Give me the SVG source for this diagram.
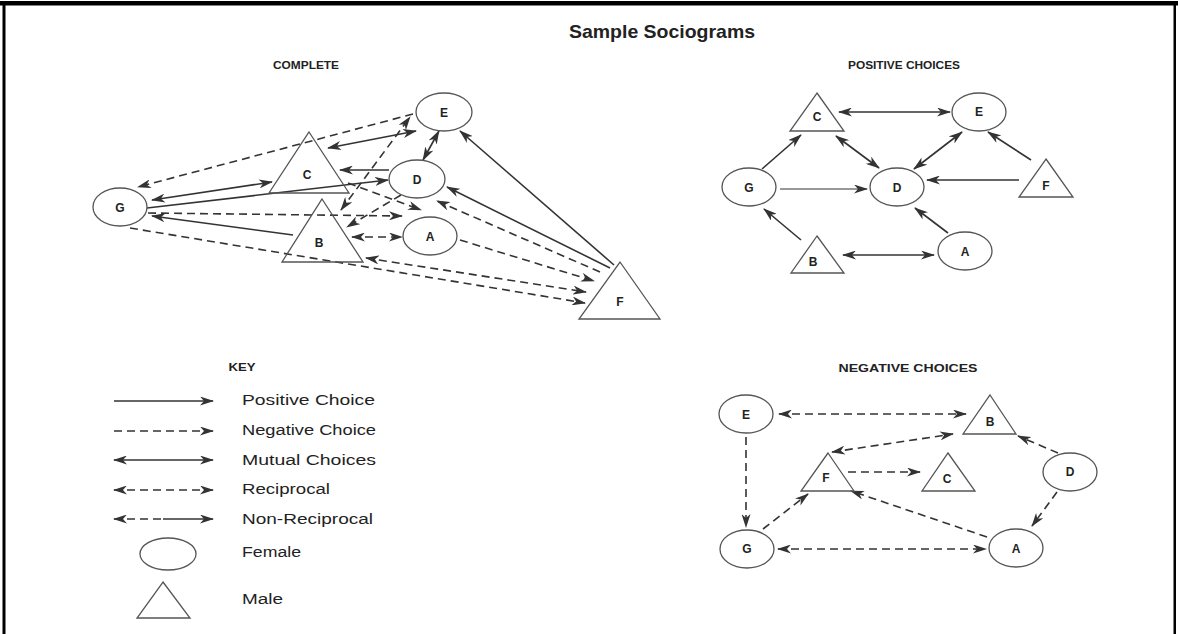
<svg xmlns="http://www.w3.org/2000/svg" width="1178" height="634" viewBox="0 0 1178 634">
<style>
.bg{fill:#fff}
.frame{fill:#000}
.nd{fill:none;stroke:#555;stroke-width:1.3}
.lbl{font-family:"Liberation Sans",Arial,sans-serif;font-weight:bold;font-size:12px;fill:#222;text-anchor:middle;dominant-baseline:central}
.hd{font-family:"Liberation Sans",Arial,sans-serif;font-weight:bold;font-size:11px;fill:#222;text-anchor:middle}
.ttl{font-family:"Liberation Sans",Arial,sans-serif;font-weight:bold;font-size:19px;fill:#222;text-anchor:middle}
.key{font-family:"Liberation Sans",Arial,sans-serif;font-size:14px;fill:#222}
.s{fill:none;stroke:#333;stroke-width:1.6}
.d{fill:none;stroke:#333;stroke-width:1.6;stroke-dasharray:8,5}
.t{fill:none;stroke:#333;stroke-width:1}
.e{marker-end:url(#ah)}
.b{marker-start:url(#ah);marker-end:url(#ah)}
</style>
<defs>
<marker id="ah" viewBox="0 0 14 9" refX="13" refY="4.5" markerWidth="14" markerHeight="9" markerUnits="userSpaceOnUse" orient="auto-start-reverse">
<path d="M0,0 L14,4.5 L0,9 L4,4.5 Z" fill="#333"/>
</marker>
</defs>
<rect class="bg" x="0" y="0" width="1178" height="634"/>
<rect class="frame" x="0" y="1" width="1178" height="4.5"/>
<rect class="frame" x="2.5" y="1" width="3" height="633"/>
<rect class="frame" x="1173.5" y="1" width="2.5" height="633"/>

<text class="ttl" x="662" y="38" textLength="186" lengthAdjust="spacingAndGlyphs">Sample Sociograms</text>
<text class="hd" x="306" y="69" textLength="66" lengthAdjust="spacingAndGlyphs">COMPLETE</text>
<text class="hd" x="904" y="69" textLength="112" lengthAdjust="spacingAndGlyphs">POSITIVE CHOICES</text>
<text class="hd" x="242" y="371" textLength="27" lengthAdjust="spacingAndGlyphs">KEY</text>
<text class="hd" x="908" y="372" textLength="139" lengthAdjust="spacingAndGlyphs">NEGATIVE CHOICES</text>

<!-- COMPLETE connectors -->
<g id="complete-connectors">
<path class="d e" d="M413,114 L138,187"/>
<path class="s b" d="M328,148 L416,131"/>
<path class="s b" d="M423,160 L439,131"/>
<path class="s e" d="M614,265 L460,131"/>
<path class="s e" d="M610,268 L447,187"/>
<path class="s e" d="M389,170 L340,170"/>
<path class="s b" d="M152,200 L272,182"/>
<path class="s e" d="M147,208 L388,180"/>
<path class="s e" d="M293,235 L152,216"/>
<path class="d e" d="M130,228 L585,303"/>
<path class="d b" d="M366,258 L586,292"/>
<path class="d e" d="M460,240 L594,281"/>
<path class="d e" d="M348,183 L421,210"/>
<path class="d e" d="M600,272 L437,201"/>
<path class="d e" d="M148,213 L402,216"/>
<path class="d b" d="M352,237 L402,237"/>
<path class="d e" d="M401,195 L347,227"/>
<path class="d b" d="M341,210 L410,117"/>
</g>
<g id="complete-G"><ellipse class="nd" cx="120" cy="207" rx="27" ry="19"/><text class="lbl" x="120" y="208">G</text></g>
<g id="complete-C"><path class="nd" d="M309,132 L349,193 L269,193 Z"/><text class="lbl" x="307" y="175">C</text></g>
<g id="complete-B"><path class="nd" d="M322,199 L363,262 L282,262 Z"/><text class="lbl" x="319" y="243">B</text></g>
<g id="complete-E"><ellipse class="nd" cx="444" cy="112" rx="28" ry="19"/><text class="lbl" x="444" y="113">E</text></g>
<g id="complete-D"><ellipse class="nd" cx="417" cy="179" rx="28" ry="19"/><text class="lbl" x="417" y="180">D</text></g>
<g id="complete-A"><ellipse class="nd" cx="430" cy="236" rx="27" ry="19"/><text class="lbl" x="430" y="237">A</text></g>
<g id="complete-F"><path class="nd" d="M620,262 L660,319 L579,319 Z"/><text class="lbl" x="620" y="302">F</text></g>

<!-- POSITIVE connectors -->
<g id="positive-connectors">
<path class="s b" d="M839,112 L950,112"/>
<path class="s b" d="M836,136 L879,168"/>
<path class="s b" d="M962,132 L914,169"/>
<path class="s e" d="M1031,160 L988,132"/>
<path class="s e" d="M1019,180 L927,180"/>
<path class="s e" d="M762,169 L801,135"/>
<path class="t e" d="M780,189 L867,189"/>
<path class="s e" d="M801,240 L764,209"/>
<path class="s b" d="M843,255 L934,255"/>
<path class="s e" d="M948,233 L915,208"/>
</g>
<g id="positive-C"><path class="nd" d="M817,93 L844,131 L790,131 Z"/><text class="lbl" x="817" y="117">C</text></g>
<g id="positive-E"><ellipse class="nd" cx="979" cy="112" rx="27" ry="19"/><text class="lbl" x="979" y="112">E</text></g>
<g id="positive-G"><ellipse class="nd" cx="749" cy="187" rx="27" ry="19"/><text class="lbl" x="749" y="188">G</text></g>
<g id="positive-D"><ellipse class="nd" cx="897" cy="187" rx="27" ry="19"/><text class="lbl" x="897" y="188">D</text></g>
<g id="positive-F"><path class="nd" d="M1046,159 L1073,197 L1019,197 Z"/><text class="lbl" x="1046" y="186">F</text></g>
<g id="positive-B"><path class="nd" d="M817,236 L844,273 L791,273 Z"/><text class="lbl" x="813" y="262">B</text></g>
<g id="positive-A"><ellipse class="nd" cx="965" cy="251" rx="27" ry="19"/><text class="lbl" x="965" y="252">A</text></g>

<!-- NEGATIVE connectors -->
<g id="negative-connectors">
<path class="d b" d="M779,414 L966,414"/>
<path class="d e" d="M746,437 L746,527"/>
<path class="d b" d="M832,452 L953,434"/>
<path class="d e" d="M1058,453 L1018,436"/>
<path class="d e" d="M848,472 L920,472"/>
<path class="d e" d="M1057,492 L1032,526"/>
<path class="d e" d="M987,537 L851,491"/>
<path class="d e" d="M763,529 L808,494"/>
<path class="d b" d="M778,549 L986,549"/>
</g>
<g id="negative-E"><ellipse class="nd" cx="746" cy="414" rx="27" ry="19"/><text class="lbl" x="746" y="415">E</text></g>
<g id="negative-B"><path class="nd" d="M990,395 L1016,434 L963,434 Z"/><text class="lbl" x="990" y="422">B</text></g>
<g id="negative-F"><path class="nd" d="M828,453 L854,491 L801,491 Z"/><text class="lbl" x="826" y="478">F</text></g>
<g id="negative-C"><path class="nd" d="M948,453 L975,491 L922,491 Z"/><text class="lbl" x="947" y="479">C</text></g>
<g id="negative-D"><ellipse class="nd" cx="1070" cy="472" rx="27" ry="19"/><text class="lbl" x="1070" y="472">D</text></g>
<g id="negative-G"><ellipse class="nd" cx="747" cy="549" rx="27" ry="19"/><text class="lbl" x="747" y="549">G</text></g>
<g id="negative-A"><ellipse class="nd" cx="1016" cy="548" rx="27" ry="19"/><text class="lbl" x="1016" y="549">A</text></g>

<!-- KEY -->
<g id="key-connectors">
<path class="s e" d="M114,401 L213,401"/>
<path class="d e" d="M114,431 L213,431"/>
<path class="s b" d="M114,460 L213,460"/>
<path class="d b" d="M114,490 L213,490"/>
<path class="d" d="M114,519 L163,519" style="marker-start:url(#ah)"/>
<path class="s e" d="M163,519 L213,519"/>
</g>
<g id="key-labels">
<text class="key" x="242" y="405" textLength="133" lengthAdjust="spacingAndGlyphs">Positive  Choice</text>
<text class="key" x="242" y="435" textLength="134" lengthAdjust="spacingAndGlyphs">Negative Choice</text>
<text class="key" x="242" y="465" textLength="134" lengthAdjust="spacingAndGlyphs">Mutual  Choices</text>
<text class="key" x="242" y="494" textLength="88" lengthAdjust="spacingAndGlyphs">Reciprocal</text>
<text class="key" x="242" y="524" textLength="131" lengthAdjust="spacingAndGlyphs">Non-Reciprocal</text>
<text class="key" x="242" y="557" textLength="59" lengthAdjust="spacingAndGlyphs">Female</text>
<text class="key" x="242" y="604" textLength="41" lengthAdjust="spacingAndGlyphs">Male</text>
</g>
<g id="key-female"><ellipse class="nd" cx="168" cy="554" rx="28" ry="16"/></g>
<g id="key-male"><path class="nd" d="M163,582 L190,618 L137,618 Z"/></g>
</svg>
